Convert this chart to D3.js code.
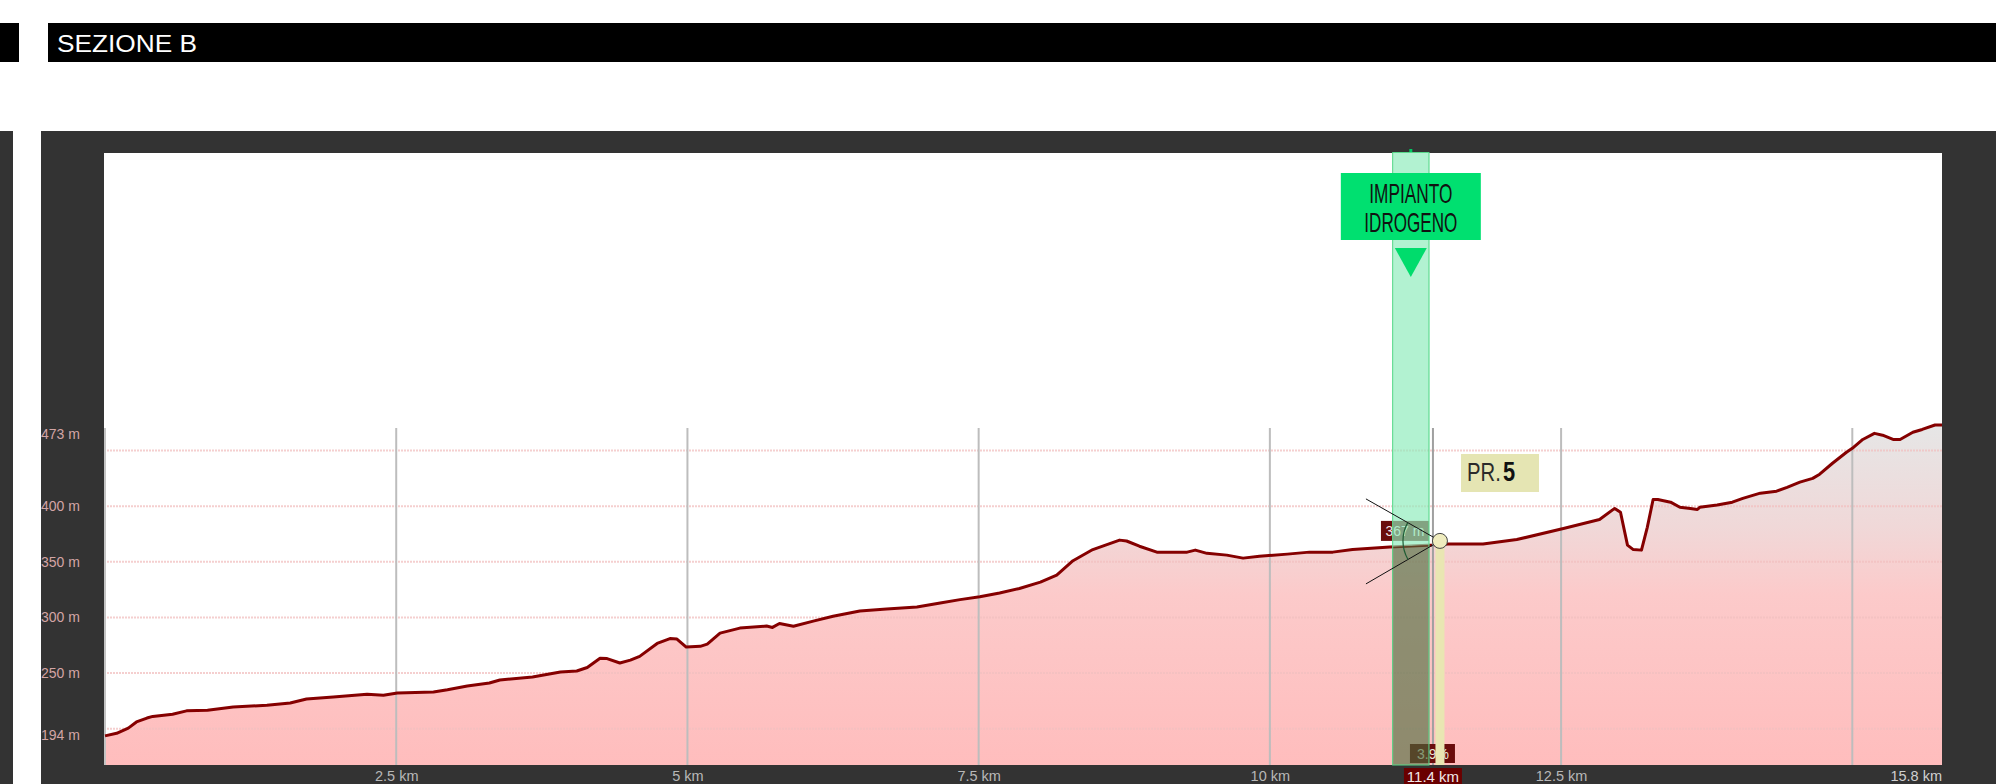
<!DOCTYPE html>
<html>
<head>
<meta charset="utf-8">
<script src="https://cdn.jsdelivr.net/npm/d3@7"></script>
<style>
  html, body { margin: 0; padding: 0; background: #fff; }
  svg { display: block; }
  .cond { font-family: "Liberation Sans Narrow", "Liberation Sans", Arial, sans-serif; }
</style>
</head>
<body>
<svg id="chart" width="1996" height="784"></svg>
<script>
// profilo altimetrico - sezione B
const title = 'SEZIONE B';

const distKm = [0, 0.10, 0.20, 0.27, 0.36, 0.41, 0.58, 0.70, 0.88, 1.10, 1.39, 1.59, 1.73, 1.96,
  2.25, 2.39, 2.51, 2.82, 2.94, 3.11, 3.30, 3.39, 3.67, 3.91, 4.05, 4.14, 4.25, 4.31, 4.42, 4.51,
  4.59, 4.74, 4.85, 4.91, 4.99, 5.11, 5.17, 5.28, 5.45, 5.68, 5.73, 5.79, 5.91, 6.08, 6.25, 6.48,
  6.71, 6.97, 7.17, 7.34, 7.51, 7.68, 7.85, 8.03, 8.17, 8.31, 8.48, 8.71, 8.77, 8.88, 9.03, 9.29,
  9.36, 9.46, 9.63, 9.77, 9.91, 10.15, 10.34, 10.54, 10.71, 11.03, 11.40, 11.53, 11.83, 12.12,
  12.52, 12.83, 12.96, 13.01, 13.07, 13.12, 13.19, 13.24, 13.29, 13.33, 13.44, 13.52, 13.61,
  13.67, 13.69, 13.84, 13.97, 14.06, 14.21, 14.35, 14.44, 14.55, 14.66, 14.72, 14.83, 14.95,
  15.00, 15.09, 15.19, 15.26, 15.35, 15.41, 15.52, 15.60, 15.71, 15.77];
const quota = [193.5, 195.8, 200.5, 206, 209.5, 211, 213, 216, 216.6, 219.4, 221, 223, 226.6, 228.4,
  231, 230, 232, 233, 235, 238.3, 241, 243.7, 246.4, 251, 251.8, 255, 263.3, 263, 259, 261.6,
  265, 276.6, 281, 280.5, 273.3, 274, 276, 285.9, 290.4, 292.2, 291, 294.5, 292, 296.7, 301, 305.7,
  307.5, 309.3, 313, 316, 318.5, 322, 326, 331.7, 338, 351, 361, 369.5, 368.7, 364, 358.7, 358.7,
  360.5, 357.6, 356, 353.3, 355, 356.9, 358.7, 358.7, 361, 363.2, 365, 366, 366, 370,
  380, 388, 398, 394.6, 365, 361, 360.5, 381, 406, 406, 403.6, 399, 398,
  397, 399, 401, 403.6, 407, 411.7, 413.5, 417, 421.6, 425, 428.8, 438.6, 448.5,
  452, 460, 465.5, 463.8, 460, 460, 466.5, 469, 473, 473];

const xTicks = [2.5, 5, 7.5, 10, 12.5, 15];
const xTickLabels = ['2.5 km', '5 km', '7.5 km', '10 km', '12.5 km', ''];
const xEndLabel = '15.8 km';
const yGrid = [200, 250, 300, 350, 400, 450];
const yLabels = [194, 250, 300, 350, 400, 473];

// punto selezionato e impianto
const cursorKm = 11.4;
const cursorQuota = 367;
const cursorSlope = '3.9%';
const plantFromKm = 11.05;
const plantToKm = 11.37;
const plantLabel = ['IMPIANTO', 'IDROGENO'];
const prLabel = ['PR.', '5'];

const data = distKm.map((d, i) => ({ km: d, m: quota[i] }));

const svg = d3.select('#chart');
const plot = { left: 104, right: 1942, top: 153, bottom: 765 };

const x = d3.scaleLinear().domain([0, 15.77]).range([105, 1942]);
const y = d3.scaleLinear().domain([167.3, 473]).range([765, 425]);

// ===== cornice =====
svg.append('rect').attr('x', 0).attr('y', 23).attr('width', 19).attr('height', 39).attr('fill', '#000');
svg.append('rect').attr('x', 48).attr('y', 23).attr('width', 1948).attr('height', 39).attr('fill', '#000');
svg.append('text')
  .attr('x', 57).attr('y', 52)
  .attr('fill', '#fff')
  .style('font-family', '"Liberation Sans", Arial, sans-serif')
  .style('font-size', '24px')
  .attr('textLength', 140)
  .attr('lengthAdjust', 'spacingAndGlyphs')
  .text(title);

svg.append('rect').attr('x', 0).attr('y', 131).attr('width', 13).attr('height', 653).attr('fill', '#333');
svg.append('rect').attr('x', 41).attr('y', 131).attr('width', 1955).attr('height', 653).attr('fill', '#333');
svg.append('rect')
  .attr('x', plot.left).attr('y', plot.top)
  .attr('width', plot.right - plot.left).attr('height', plot.bottom - plot.top)
  .attr('fill', '#fff');

const defs = svg.append('defs');
defs.append('clipPath').attr('id', 'plotClip')
  .append('rect')
  .attr('x', plot.left).attr('y', plot.top)
  .attr('width', plot.right - plot.left).attr('height', plot.bottom - plot.top);

const grad = defs.append('linearGradient')
  .attr('id', 'fillGrad')
  .attr('gradientUnits', 'userSpaceOnUse')
  .attr('x1', 0).attr('x2', 0)
  .attr('y1', y(473)).attr('y2', plot.bottom);
[
  { o: 0, c: '#e6e6e6' },
  { o: 0.3, c: '#f0d8d8' },
  { o: 0.5, c: '#fccaca' },
  { o: 1, c: '#ffbdbd' }
].forEach((s) => grad.append('stop').attr('offset', s.o).attr('stop-color', s.c));

const areaGen = d3.area()
  .x((d) => x(d.km))
  .y0(plot.bottom)
  .y1((d) => y(d.m));
const lineGen = d3.line()
  .x((d) => x(d.km))
  .y((d) => y(d.m));

defs.append('clipPath').attr('id', 'underClip')
  .append('path').attr('d', areaGen(data));
defs.append('clipPath').attr('id', 'overClip')
  .append('path')
  .attr('d', areaGen.y0(plot.top)(data));
areaGen.y0(plot.bottom);

const g = svg.append('g').attr('clip-path', 'url(#plotClip)');

g.append('path')
  .attr('d', areaGen(data))
  .attr('fill', 'url(#fillGrad)');

// griglia orizzontale
g.selectAll('line.hgrid')
  .data(yGrid)
  .join('line')
  .attr('class', 'hgrid')
  .attr('x1', plot.left).attr('x2', plot.right)
  .attr('y1', (d) => y(d)).attr('y2', (d) => y(d))
  .attr('stroke', '#f2c0c0')
  .attr('stroke-width', 2)
  .attr('stroke-dasharray', '2,1')
  .attr('opacity', 0.75);

// griglia verticale
g.selectAll('line.vgrid')
  .data(xTicks)
  .join('line')
  .attr('class', 'vgrid')
  .attr('x1', (d) => x(d)).attr('x2', (d) => x(d))
  .attr('y1', y(473) + 3).attr('y2', plot.bottom)
  .attr('stroke', '#bdbdbd')
  .attr('stroke-width', 2);

g.append('line')
  .attr('x1', plot.left + 1).attr('x2', plot.left + 1)
  .attr('y1', y(473) + 3).attr('y2', plot.bottom)
  .attr('stroke', '#c4c4c4').attr('stroke-width', 2);

g.append('path')
  .attr('d', lineGen(data))
  .attr('fill', 'none')
  .attr('stroke', '#850000')
  .attr('stroke-width', 3)
  .attr('stroke-linejoin', 'round');

// etichette asse y
svg.selectAll('text.ylab')
  .data(yLabels)
  .join('text')
  .attr('class', 'ylab')
  .attr('x', 41)
  .attr('y', (d) => Math.max(y(d), 434) + 5)
  .attr('fill', '#d3a5a5')
  .style('font-family', '"Liberation Sans", Arial, sans-serif')
  .style('font-size', '14px')
  .text((d) => d + ' m');

// etichette asse x
svg.append('g')
  .attr('transform', `translate(0,${plot.bottom})`)
  .call(d3.axisBottom(x).tickValues(xTicks).tickSize(0).tickPadding(0)
    .tickFormat((d, i) => xTickLabels[i]))
  .call((ax) => ax.select('.domain').remove())
  .selectAll('text')
  .attr('dy', null)
  .attr('y', 16)
  .attr('fill', '#b8b8b8')
  .style('font-family', '"Liberation Sans", Arial, sans-serif')
  .style('font-size', '14.5px');

svg.append('text')
  .attr('x', plot.right).attr('y', 781)
  .attr('text-anchor', 'end')
  .attr('fill', '#d0d0d0')
  .style('font-family', '"Liberation Sans", Arial, sans-serif')
  .style('font-size', '14.5px')
  .text(xEndLabel);

// ===== cursore =====
const cx = x(cursorKm);
const px = cx + 7;
const py = y(cursorQuota) - 2;

svg.append('line')
  .attr('x1', cx).attr('x2', cx)
  .attr('y1', y(473) + 3).attr('y2', plot.bottom)
  .attr('stroke', '#a0a0a0').attr('stroke-width', 2);

// quota
svg.append('rect')
  .attr('x', cx - 52).attr('y', py - 20).attr('width', 48).attr('height', 20)
  .attr('fill', '#6a0c0c');
svg.append('text')
  .attr('x', cx - 28).attr('y', py - 5)
  .attr('text-anchor', 'middle')
  .attr('fill', '#f4e8e8')
  .style('font-family', '"Liberation Sans", Arial, sans-serif')
  .style('font-size', '14px')
  .text(cursorQuota + ' m');

// pendenza
svg.append('rect')
  .attr('x', cx - 23).attr('y', 744).attr('width', 45).attr('height', 19)
  .attr('fill', '#6a0c0c');
svg.append('text')
  .attr('x', cx).attr('y', 759)
  .attr('text-anchor', 'middle')
  .attr('fill', '#e6e6d6')
  .style('font-family', '"Liberation Sans", Arial, sans-serif')
  .style('font-size', '14px')
  .text(cursorSlope);

// fascia impianto
const bx0 = x(plantFromKm);
const bx1 = x(plantToKm);
const bmid = (bx0 + bx1) / 2;

svg.append('rect')
  .attr('clip-path', 'url(#overClip)')
  .attr('x', bx0).attr('y', plot.top - 1).attr('width', bx1 - bx0).attr('height', plot.bottom - plot.top + 1)
  .attr('fill', '#8eecbb').attr('opacity', 0.68);
svg.append('rect')
  .attr('clip-path', 'url(#underClip)')
  .attr('x', bx0).attr('y', plot.top).attr('width', bx1 - bx0).attr('height', plot.bottom - plot.top)
  .attr('fill', '#4a6a3c').attr('opacity', 0.62);
svg.append('rect')
  .attr('x', bx0 + 0.5).attr('y', plot.top - 0.5).attr('width', bx1 - bx0 - 1).attr('height', plot.bottom - plot.top + 0.5)
  .attr('fill', 'none').attr('stroke', '#58d88a').attr('stroke-width', 1);
svg.append('rect')
  .attr('x', bmid - 1.5).attr('y', plot.top - 4).attr('width', 3).attr('height', 3)
  .attr('fill', '#00c862');

svg.append('rect')
  .attr('x', bmid - 70).attr('y', 173).attr('width', 140).attr('height', 67)
  .attr('fill', '#00e070');
svg.selectAll('text.plant')
  .data(plantLabel)
  .join('text')
  .attr('class', 'plant cond')
  .attr('x', bmid)
  .attr('y', (d, i) => 203 + i * 29)
  .attr('text-anchor', 'middle')
  .attr('fill', '#111')
  .style('font-size', '28px')
  .attr('textLength', (d, i) => (i === 0 ? 83 : 93))
  .attr('lengthAdjust', 'spacingAndGlyphs')
  .text((d) => d);
svg.append('path')
  .attr('d', d3.line()([[bmid - 16, 248], [bmid + 16, 248], [bmid, 277]]) + 'Z')
  .attr('fill', '#00dc6c');

// barra e punto
svg.append('rect')
  .attr('x', px - 4.5).attr('y', py).attr('width', 9).attr('height', plot.bottom - py)
  .attr('fill', '#e9e6b2');

const r = 37;
const a1 = Math.atan2(-42, -74);
const a2 = Math.atan2(43, -74);
svg.append('line')
  .attr('x1', px).attr('y1', py).attr('x2', px - 74).attr('y2', py - 42)
  .attr('stroke', '#111').attr('stroke-width', 1);
svg.append('line')
  .attr('x1', px).attr('y1', py).attr('x2', px - 74).attr('y2', py + 43)
  .attr('stroke', '#111').attr('stroke-width', 1);
svg.append('path')
  .attr('d', `M${px + r * Math.cos(a1)},${py + r * Math.sin(a1)} A${r},${r} 0 0 0 ${px + r * Math.cos(a2)},${py + r * Math.sin(a2)}`)
  .attr('fill', 'none')
  .attr('stroke', '#1f5c34')
  .attr('stroke-width', 1.2);
svg.append('circle')
  .attr('cx', px).attr('cy', py).attr('r', 7.5)
  .attr('fill', '#efecbe')
  .attr('stroke', '#444').attr('stroke-width', 1);

// PR.5 (testo stretto in orizzontale)
svg.append('rect')
  .attr('x', 1461).attr('y', 454).attr('width', 78).attr('height', 38)
  .attr('fill', '#e5e5b3');
const pr = svg.append('g')
  .attr('transform', 'translate(1467,481) scale(0.78,1)')
  .append('text')
  .attr('class', 'cond')
  .attr('x', 0).attr('y', 0)
  .attr('fill', '#2a2a2a');
pr.append('tspan')
  .style('font-size', '26px')
  .text(prLabel[0]);
pr.append('tspan')
  .attr('dx', 3)
  .attr('fill', '#111')
  .style('font-size', '28px')
  .style('font-weight', 'bold')
  .text(prLabel[1]);

// etichetta km cursore
svg.append('rect')
  .attr('x', cx - 29).attr('y', 768).attr('width', 58).attr('height', 18)
  .attr('fill', '#6a0000');
svg.append('text')
  .attr('x', cx).attr('y', 782)
  .attr('text-anchor', 'middle')
  .attr('fill', '#f0e8e8')
  .style('font-family', '"Liberation Sans", Arial, sans-serif')
  .style('font-size', '15px')
  .text(cursorKm + ' km');
</script>
</body>
</html>
